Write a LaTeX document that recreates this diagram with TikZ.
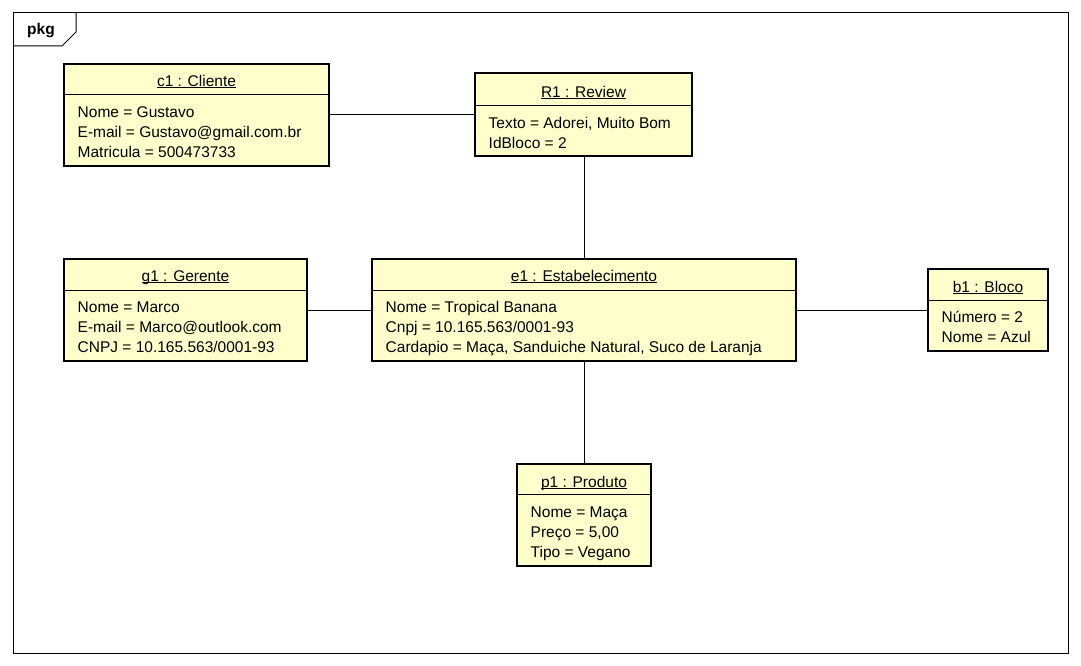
\documentclass[tikz,border=0pt]{standalone}
\usepackage{fontspec}
\setmainfont{Liberation Sans}
\usetikzlibrary{positioning}
\definecolor{objfill}{RGB}{255,255,204}
\newcommand\objname[1]{\setbox0\hbox{#1}\rlap{\rule[-1.8pt]{\wd0}{0.9pt}}\box0}

\begin{document}
\begin{tikzpicture}[x=1pt, y=-1pt,
			every node/.style={font=\fontsize{15.5}{20}\selectfont, inner sep=0pt},
			object/.style={draw, rectangle, line width=2.7pt, fill=objfill, anchor=north west, outer sep=0pt},
			objtitle/.style={anchor=base},
			objattr/.style={anchor=base west, align=left},
			sepline/.style={line width=1pt},
			link/.style={line width=1pt}
			]
			\useasboundingbox (0,0) rectangle (1081,666);
			
			% Frame
			\draw [link] (13,13) rectangle (1068,653);
			\draw [link] (13,46) -- (62,46) -- (76,32) -- (76,13);
			\node (pkg) at (41,31) {\bfseries pkg};
			
			% Nodes
			\node (c1) [object, minimum width=265pt, minimum height=102pt] at (64,64) {};
			\node (R1) [object, minimum width=217pt, minimum height=83pt] at (475,73) {};
			\node (g1) [object, minimum width=243pt, minimum height=102pt] at (64,259) {};
			\node (e1) [object, minimum width=424pt, minimum height=102pt] at (372,259) {};
			\node (b1) [object, minimum width=120pt, minimum height=82pt] at (928,269) {};
			\node (p1) [object, minimum width=134pt, minimum height=102pt] at (517,464) {};
			
			% Compartments
			\foreach \obj/\sep in {c1/31,R1/32.5,g1/31,e1/31,b1/31,p1/30.5}
				\draw [sepline] ([yshift=-\sep pt]\obj.north west) -- ([yshift=-\sep pt]\obj.north east);
			
			% Texts (base of an attribute node is its last line)
			\node (c1name) [objtitle] at ([yshift=-22.5pt]c1.north) {\objname{c1 : Cliente}};
			\node (c1attr) [objattr] at ([xshift=13.5pt,yshift=-93.5pt]c1.north west) {Nome = Gustavo\\E-mail = Gustavo@gmail.com.br\\Matricula = 500473733};
			\node (R1name) [objtitle] at ([yshift=-24.5pt]R1.north) {\objname{R1 : Review}};
			\node (R1attr) [objattr] at ([xshift=13.5pt,yshift=-75pt]R1.north west) {Texto = Adorei, Muito Bom\\IdBloco = 2};
			\node (g1name) [objtitle] at ([yshift=-22.5pt]g1.north) {\objname{g1 : Gerente}};
			\node (g1attr) [objattr] at ([xshift=13.5pt,yshift=-93.5pt]g1.north west) {Nome = Marco\\E-mail = Marco@outlook.com\\CNPJ = 10.165.563/0001-93};
			\node (e1name) [objtitle] at ([yshift=-22.5pt]e1.north) {\objname{e1 : Estabelecimento}};
			\node (e1attr) [objattr] at ([xshift=13.5pt,yshift=-93.5pt]e1.north west) {Nome = Tropical Banana\\Cnpj = 10.165.563/0001-93\\Cardapio = Maça, Sanduiche Natural, Suco de Laranja};
			\node (b1name) [objtitle] at ([yshift=-23pt]b1.north) {\objname{b1 : Bloco}};
			\node (b1attr) [objattr] at ([xshift=13.5pt,yshift=-73.5pt]b1.north west) {Número = 2\\Nome = Azul};
			\node (p1name) [objtitle] at ([yshift=-23pt]p1.north) {\objname{p1 : Produto}};
			\node (p1attr) [objattr] at ([xshift=13.5pt,yshift=-93.5pt]p1.north west) {Nome = Maça\\Preço = 5,00\\Tipo = Vegano};
			
			% Connections
			\draw [link] (c1.east |- 0,115) -- (R1.west |- 0,115);
			\draw [link] (R1.south -| 584,0) -- (e1.north -| 584,0);
			\draw [link] (g1.east) -- (e1.west);
			\draw [link] (e1.east) -- (b1.west);
			\draw [link] (e1.south) -- (p1.north);
			
		\end{tikzpicture}
\end{document}
